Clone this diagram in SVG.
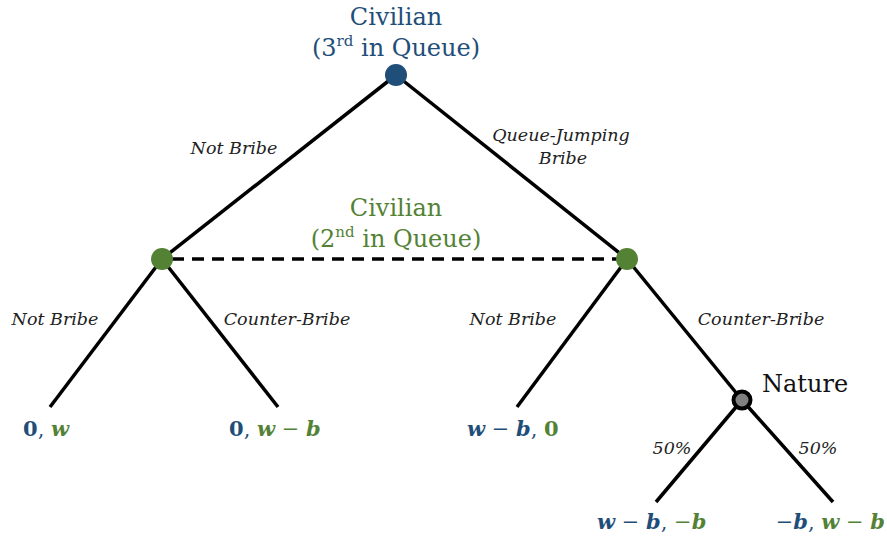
<svg xmlns="http://www.w3.org/2000/svg" width="887" height="540" viewBox="0 0 887 540">
<style>
.edge{stroke:#000;stroke-width:3.5;fill:none}
.dash{stroke:#000;stroke-width:3.5;stroke-dasharray:12,8;fill:none}
.lbl{font-family:"DejaVu Serif",serif;font-style:italic;font-size:17.5px;fill:#222}
.title{font-family:"DejaVu Serif",serif;font-size:24px}
.blue{fill:#1F4E79}
.green{fill:#548235}
.pay{font-family:"DejaVu Serif",serif;font-size:21px;font-weight:bold}
.it{font-style:italic}
</style>
<rect width="887" height="540" fill="#fff"/>
<g id="connectors">
<line class="edge" x1="396" y1="75" x2="162" y2="259"/>
<line class="edge" x1="396" y1="75" x2="627" y2="259"/>
<line class="dash" x1="172" y1="259" x2="617" y2="259"/>
<line class="edge" x1="162" y1="259" x2="50" y2="407"/>
<line class="edge" x1="162" y1="259" x2="278" y2="407"/>
<line class="edge" x1="627" y1="259" x2="517" y2="407"/>
<line class="edge" x1="627" y1="259" x2="742" y2="400"/>
<line class="edge" x1="742" y1="400" x2="656" y2="502"/>
<line class="edge" x1="742" y1="400" x2="833" y2="502"/>
<text class="lbl" x="234" y="154" text-anchor="middle">Not Bribe</text>
<text class="lbl" x="561" y="141" text-anchor="middle">Queue-Jumping</text>
<text class="lbl" x="563" y="164" text-anchor="middle">Bribe</text>
<text class="lbl" x="55" y="325" text-anchor="middle">Not Bribe</text>
<text class="lbl" x="287" y="325" text-anchor="middle">Counter-Bribe</text>
<text class="lbl" x="513" y="325" text-anchor="middle">Not Bribe</text>
<text class="lbl" x="761" y="325" text-anchor="middle">Counter-Bribe</text>
<text class="lbl" x="672" y="454" text-anchor="middle">50%</text>
<text class="lbl" x="818" y="454" text-anchor="middle">50%</text>
</g>
<g id="root">
<circle cx="396" cy="75" r="11" fill="#1F4E79"/>
<text class="title blue" x="396" y="25" text-anchor="middle">Civilian</text>
<text class="title blue" x="396" y="56" text-anchor="middle">(3<tspan font-size="15" dy="-10">rd</tspan><tspan dy="10"> in Queue)</tspan></text>
</g>
<g id="civ2-left">
<circle cx="162" cy="259" r="11" fill="#548235"/>
</g>
<g id="civ2-right">
<circle cx="627" cy="259" r="11" fill="#548235"/>
</g>
<g id="civ2-label">
<text class="title green" x="396" y="216" text-anchor="middle">Civilian</text>
<text class="title green" x="396" y="247" text-anchor="middle">(2<tspan font-size="15" dy="-10">nd</tspan><tspan dy="10"> in Queue)</tspan></text>
</g>
<g id="nature">
<circle cx="742" cy="400" r="8.5" fill="#808080" stroke="#000" stroke-width="4"/>
<text class="title" x="762" y="392" fill="#111" font-size="21">Nature</text>
</g>
<g id="payoff1">
<text class="pay" x="23" y="436"><tspan class="blue">0</tspan><tspan class="blue" font-weight="normal">, </tspan><tspan class="green it">w</tspan></text>
</g>
<g id="payoff2">
<text class="pay" x="229" y="436"><tspan class="blue">0</tspan><tspan class="blue" font-weight="normal">, </tspan><tspan class="green it">w</tspan><tspan class="green" font-weight="normal"> − </tspan><tspan class="green it">b</tspan></text>
</g>
<g id="payoff3">
<text class="pay" x="467" y="436"><tspan class="blue it">w</tspan><tspan class="blue" font-weight="normal"> − </tspan><tspan class="blue it">b</tspan><tspan class="blue" font-weight="normal">, </tspan><tspan class="green">0</tspan></text>
</g>
<g id="payoff4">
<text class="pay" x="597" y="529"><tspan class="blue it">w</tspan><tspan class="blue" font-weight="normal"> − </tspan><tspan class="blue it">b</tspan><tspan class="blue" font-weight="normal">, </tspan><tspan class="green" font-weight="normal">−</tspan><tspan class="green it">b</tspan></text>
</g>
<g id="payoff5">
<text class="pay" x="885" y="529" text-anchor="end"><tspan class="blue" font-weight="normal">−</tspan><tspan class="blue it">b</tspan><tspan class="blue" font-weight="normal">, </tspan><tspan class="green it">w</tspan><tspan class="green" font-weight="normal"> − </tspan><tspan class="green it">b</tspan></text>
</g>
</svg>
